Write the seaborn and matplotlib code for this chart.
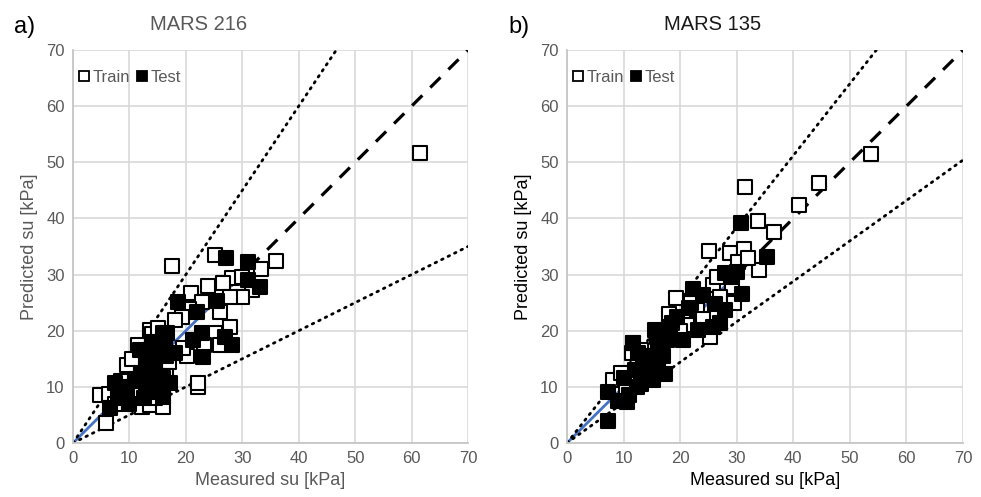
import matplotlib
matplotlib.use("Agg")
import matplotlib.pyplot as plt
from matplotlib.lines import Line2D
import numpy as np
import pandas as pd
import seaborn as sns

# ---- MARS 216: measured vs predicted undrained shear strength ----
a_train_x = [61.5, 36.0, 33.4, 25.1, 17.5, 31.7, 29.9, 28.1, 26.5, 27.8, 26.0, 27.8,
             25.1, 26.0, 20.2, 23.3, 21.0, 22.8, 20.5, 19.3, 18.0, 22.1, 22.1, 5.8,
             4.8, 6.3, 9.5, 12.2, 13.6, 15.9, 13.6, 11.5, 14.0, 15.0, 12.0, 10.5,
             16.0, 8.5, 10.0, 9.0, 7.5, 12.5, 14.5, 11.0, 13.0, 17.0, 16.5, 19.5,
             24.0, 30.0]
a_train_y = [51.7, 32.5, 31.0, 33.5, 31.5, 27.3, 26.0, 29.4, 28.5, 26.0, 23.3, 20.7,
             19.6, 17.5, 15.5, 17.5, 26.7, 25.1, 23.9, 22.4, 21.9, 10.0, 10.6, 3.6,
             8.5, 8.8, 13.9, 6.4, 6.8, 6.4, 20.1, 17.5, 19.5, 20.5, 16.0, 15.0,
             18.0, 11.0, 10.0, 7.5, 7.0, 10.0, 8.0, 8.5, 12.5, 14.5, 12.0, 17.0,
             28.0, 29.5]
a_test_x = [27.1, 31.0, 31.0, 33.1, 25.5, 26.9, 28.1, 23.0, 21.2, 22.8, 18.6, 21.9,
            16.6, 16.3, 6.5, 7.4, 15.9, 17.2, 15.9, 11.9, 14.0, 13.0, 14.5, 12.0,
            15.0, 13.0, 14.0, 11.0, 9.5, 8.0, 10.0, 16.5, 13.5, 12.5, 15.5, 8.5,
            18.0, 14.5, 16.0, 13.5, 15.0]
a_test_y = [33.0, 32.2, 29.0, 27.8, 25.3, 18.9, 17.5, 15.3, 18.3, 19.6, 25.1, 23.3,
            19.6, 18.3, 6.2, 10.7, 8.2, 10.7, 19.6, 16.6, 18.0, 15.0, 14.0, 12.5,
            12.0, 10.0, 9.0, 11.0, 9.0, 8.0, 7.0, 15.5, 13.0, 8.0, 16.5, 10.0,
            16.0, 11.0, 11.5, 16.5, 9.5]

# ---- MARS 135 ----
b_train_x = [53.8, 44.5, 41.0, 36.6, 33.8, 31.5, 34.0, 25.1, 28.8, 31.3, 30.2, 25.8,
             29.2, 19.3, 23.0, 25.3, 21.2, 11.5, 8.1, 11.7, 13.0, 22.0, 27.0, 17.0,
             14.5, 9.5, 12.5, 24.0, 20.0, 16.0, 29.5, 18.0, 26.5, 32.0, 10.5]
b_train_y = [51.5, 46.3, 42.4, 37.6, 39.5, 45.6, 30.8, 34.2, 33.8, 34.6, 32.2, 28.1,
             27.8, 25.8, 23.7, 18.9, 21.0, 16.0, 11.2, 17.8, 16.5, 25.0, 26.0, 19.5,
             15.0, 12.5, 12.0, 22.0, 20.0, 17.0, 25.0, 23.0, 29.5, 33.0, 9.0]
b_test_x = [30.7, 35.3, 28.0, 30.0, 29.0, 30.9, 22.3, 24.0, 26.2, 27.9, 27.0, 25.8,
            23.2, 20.5, 18.6, 17.7, 15.6, 16.1, 11.7, 13.4, 15.2, 18.2, 17.3, 7.2,
            7.2, 10.6, 12.4, 15.9, 15.2, 10.0, 12.0, 14.0, 13.0, 16.0, 11.0, 9.0,
            14.0, 19.5, 21.5, 17.0, 12.5]
b_test_y = [39.2, 33.1, 30.2, 30.5, 29.5, 26.5, 27.5, 26.4, 24.8, 23.7, 21.4, 20.7,
            20.1, 18.3, 21.4, 18.3, 20.1, 17.1, 17.8, 14.2, 14.8, 20.7, 12.3, 9.0,
            4.0, 7.3, 10.0, 18.9, 11.2, 11.5, 13.0, 12.5, 10.5, 13.5, 8.5, 7.5,
            15.5, 22.5, 24.0, 15.5, 16.0]

# reference lines through the origin: 1:1 (blue part + dashed part) and bounds
a_bounds = [1.5, 0.5]
b_bounds = [1.28, 0.72]
a_blue_end, b_blue_end = 28, 28

ticks = [0, 10, 20, 30, 40, 50, 60, 70]

sns.set_theme(style="white")
plt.rcParams["font.family"] = ["Liberation Sans", "DejaVu Sans"]

GRAY = "#595959"
GRID = "#d9d9d9"

fig = plt.figure(figsize=(9.81, 4.97), dpi=100)
ax_a = fig.add_axes([73 / 981, 54 / 497, 395 / 981, 393 / 497])
ax_b = fig.add_axes([567 / 981, 54 / 497, 396 / 981, 393 / 497])


def draw_panel(ax, trx, try_, tex, tey, bounds, blue_end, label_color):
    xs = np.array([0, 70.0])
    # 1:1 line: solid blue near the origin, dashed black beyond
    ax.plot([0, blue_end], [0, blue_end], color="#4472C4", lw=2.0, zorder=2,
            solid_capstyle="butt")
    ax.plot([blue_end, 70], [blue_end, 70], color="black", lw=2.3,
            ls=(0, (4.5, 3.5)), zorder=2)
    for k in bounds:
        ax.plot(xs, k * xs, color="black", lw=2.0, ls=(0, (0.6, 2.0)),
                dash_capstyle="round", zorder=2)

    train = pd.DataFrame({"x": trx, "y": try_})
    test = pd.DataFrame({"x": tex, "y": tey})
    sns.scatterplot(data=train, x="x", y="y", ax=ax, marker="s", s=100,
                    facecolor="white", edgecolor="black", linewidth=1.5,
                    zorder=3, legend=False)
    sns.scatterplot(data=test, x="x", y="y", ax=ax, marker="s", s=100,
                    facecolor="black", edgecolor="black", linewidth=1.5,
                    zorder=4, legend=False)

    ax.set_xlim(0, 70)
    ax.set_ylim(0, 70)
    ax.set_xticks(ticks)
    ax.set_yticks(ticks)
    ax.grid(True, color=GRID, lw=1.2)
    ax.set_axisbelow(True)
    for side in ["top", "right"]:
        ax.spines[side].set_visible(False)
    for side in ["left", "bottom"]:
        ax.spines[side].set_color("#c6c6c6")
        ax.spines[side].set_linewidth(1.3)
    ax.tick_params(length=0, labelsize=12, labelcolor=GRAY, pad=6)
    ax.set_xlabel("Measured su [kPa]", fontsize=13, color=label_color, labelpad=4)
    ax.set_ylabel("Predicted su [kPa]", fontsize=13, color=label_color, labelpad=6)

    handles = [
        Line2D([], [], ls="none", marker="s", markersize=7, markerfacecolor="white",
               markeredgecolor="black", markeredgewidth=1.3, label="Train"),
        Line2D([], [], ls="none", marker="s", markersize=7, markerfacecolor="black",
               markeredgecolor="black", markeredgewidth=1.3, label="Test"),
    ]
    leg = ax.legend(handles=handles, loc="center left", bbox_to_anchor=(-0.005, 0.93),
                    ncol=2, frameon=False, fontsize=12, handlelength=0.8,
                    handletextpad=0.1, columnspacing=0.3, borderaxespad=0)
    for t in leg.get_texts():
        t.set_color(GRAY)


draw_panel(ax_a, a_train_x, a_train_y, a_test_x, a_test_y, a_bounds, a_blue_end, GRAY)
draw_panel(ax_b, b_train_x, b_train_y, b_test_x, b_test_y, b_bounds, b_blue_end, "black")

fig.text(14 / 981, 1 - 27 / 497, "a)", fontsize=17, color="black", va="center")
fig.text(508 / 981, 1 - 27 / 497, "b)", fontsize=17, color="black", va="center")
fig.text(199 / 981, 1 - 25 / 497, "MARS 216", fontsize=14.5, color=GRAY,
         ha="center", va="center")
fig.text(713 / 981, 1 - 25 / 497, "MARS 135", fontsize=14.5, color="#1a1a1a",
         ha="center", va="center")

fig.savefig("out.png", dpi=100)
